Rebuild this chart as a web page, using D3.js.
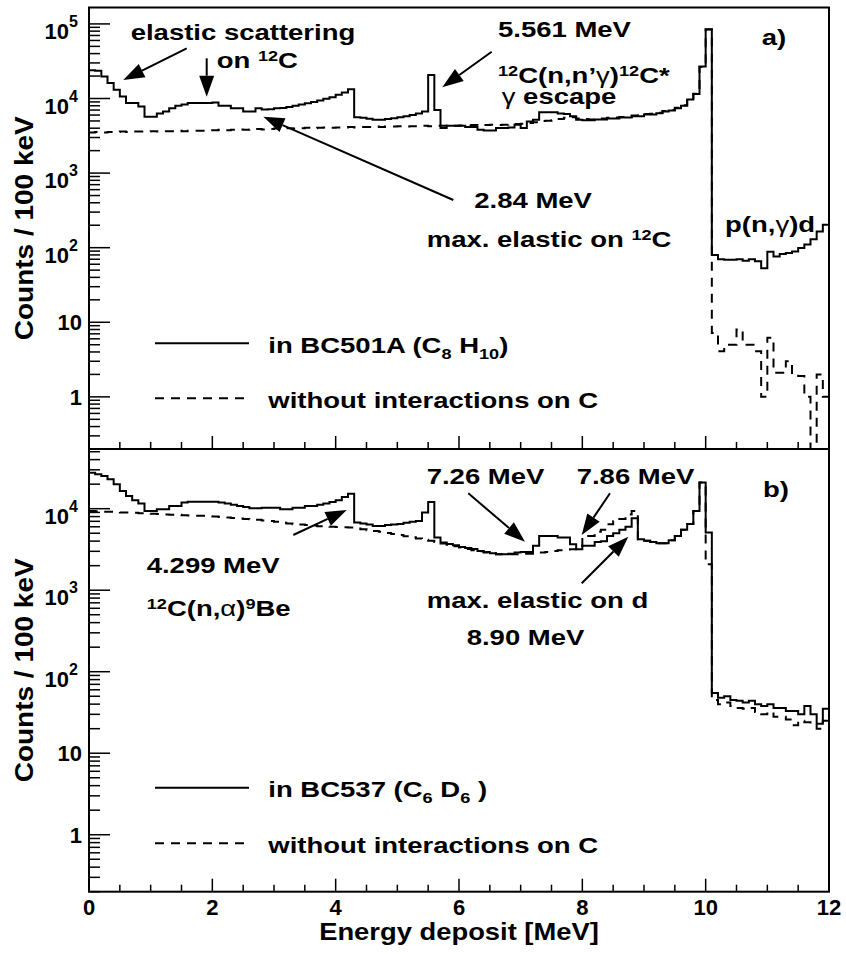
<!DOCTYPE html>
<html><head><meta charset="utf-8">
<script src="https://cdn.jsdelivr.net/npm/d3@7"></script>
<style>
body{margin:0;background:#fff}
text{font-family:"Liberation Sans",Arial,Helvetica,sans-serif;font-weight:bold;fill:#000}
</style>
</head><body>
<svg id="chart" width="846" height="954"></svg>
<script>
// ---------------- DATA (100 keV bins, 0 - 12 MeV) ----------------
const binWidth = 0.1;
const energyRange = [0, 12];
const xTickValues = [0, 2, 4, 6, 8, 10, 12];
const yTickValues = [1, 10, 100, 1000, 10000, 100000];

const bc501aWith = [
24000,23500,19700,16100,13100,10600,8700,8700,7800,5700,
5700,6300,6700,7400,8000,8300,8700,8700,8700,8700,
8850,8000,8000,7400,7400,6700,6700,7400,7100,7200,
7400,7450,7700,7980,8300,8670,9000,9400,9900,10400,
11200,12000,13300,5620,5500,5350,5200,5200,5300,5450,
5600,5800,6000,6300,6700,20700,7040,4010,4300,4300,
4300,4150,4150,3800,3720,3720,4010,4010,4100,4440,
4010,4920,5180,6560,6560,6560,6300,6200,5800,5200,
5100,5100,5250,5250,5400,5400,5550,5550,5800,5800,
6100,6100,6360,6700,6900,7430,7980,9700,11500,26800,
85000,80,70,69,69,70,67,70,66,53,
88,76,82,85,89,99,110,130,165,203];

const bc501aWithoutC = [
3500,3550,3500,3550,3550,3600,3550,3600,3600,3600,
3650,3600,3650,3650,3700,3650,3700,3700,3700,3750,
3750,3800,3750,3800,3850,3800,3850,3900,3850,3900,
3950,3950,4000,3950,4000,4050,4000,4050,4100,4050,
4100,4100,4150,4100,4150,4150,4200,4150,4200,4200,
4250,4200,4250,4250,4300,4250,4300,4300,4350,4300,
4350,4350,4400,4350,4400,4450,4400,4450,4500,4550,
4600,4700,4800,5000,5050,5100,5300,5500,5600,5400,
5300,5250,5350,5400,5500,5550,5650,5700,5900,5950,
6200,6250,6450,6800,7000,7500,8100,9800,11600,26500,
84000,7.2,4.1,5.0,5.0,8.0,5.0,5.0,4.1,1.0,
6.2,2.1,2.1,3.0,2.0,1.9,1.0,0,2.0,1.0];

const bc537With = [
27700,26500,25200,23000,20000,16500,14300,12700,11550,9400,
9400,9860,9860,10800,10800,11900,12200,12200,12200,12200,
12200,11900,11550,11200,10800,10500,10100,10100,10300,10300,
10300,9860,9860,10300,10300,10800,10800,11200,11550,12100,
12700,13900,15300,6760,6600,6400,6150,6150,6300,6400,
6500,6700,6900,7080,8960,12100,4420,3840,3700,3550,
3400,3300,3200,3030,2950,2850,2760,2760,2800,2900,
2950,2950,3500,4640,4640,4640,4420,4420,3660,3190,
3500,3500,3900,4000,4640,5000,5500,6000,7640,4220,
4030,3900,3780,3780,4100,4640,5500,6500,9400,20900,
5090,55,48,50,45,44,42,44,40,38,
40,36,36,33,33,30,38,30,23,35];

const bc537WithoutC = [
9400,9300,9200,9150,9100,9000,8960,8900,8800,8700,
8650,8600,8500,8450,8400,8300,8250,8200,8170,8100,
8000,7900,7800,7700,7600,7500,7400,7300,7150,7080,
6900,6700,6600,6460,6400,6300,6200,6100,6050,6000,
5950,5900,5860,5700,5600,5450,5340,5200,5050,4900,
4750,4600,4450,4300,4150,4030,3900,3750,3600,3450,
3340,3200,3100,3000,2900,2850,2760,2760,2760,2760,
2800,2800,2850,2900,2950,3030,3100,3150,3190,3500,
4640,4640,5200,5500,6460,7000,7500,8500,9400,4220,
4030,3900,3780,3780,4100,4640,5500,6500,9400,20900,
2080,45,40,42,38,36,35,36,32,30,
32,28,28,26,22,25,24,22,20,25];

// ---------------- LAYOUT ----------------
const svg = d3.select("#chart");
const L = 89, R = 829;
const panels = [
  {id:"a", top:7.5, bottom:449, yDomain:[0.2,1.66e5], series:[bc501aWith, bc501aWithoutC]},
  {id:"b", top:449, bottom:891.7, yDomain:[0.2,5.4e4], series:[bc537With, bc537WithoutC]}
];
const x = d3.scaleLinear().domain(energyRange).range([L, R]);

function stepPoints(vals, y, ymin){
  const pts = [];
  vals.forEach((v,i)=>{
    const vv = Math.max(v, ymin*0.5);
    const yy = y(vv);
    pts.push([x(i*binWidth), yy]);
    pts.push([x((i+1)*binWidth), yy]);
  });
  return pts;
}

function supText(g, parts, fs){
  const t = g.append("text").attr("font-size", fs);
  let shift = 0;
  parts.forEach(([s, m])=>{
    const ts = t.append("tspan").text(s);
    let target = 0;
    if (m === "sup") { ts.attr("font-size", fs*0.66); target = -fs*0.33; }
    else if (m === "sub") { ts.attr("font-size", fs*0.66); target = fs*0.28; }
    else if (m === "greek") { ts.attr("font-weight","normal"); }
    ts.attr("dy", target - shift);
    shift = target;
  });
  return t;
}

function label(px, py, parts, fs=22, sx=1.25){
  const g = svg.append("g").attr("transform", `translate(${px},${py}) scale(${sx},1)`);
  supText(g, parts, fs);
  return g;
}

function arrow(x1,y1,x2,y2){
  const ang = Math.atan2(y2-y1, x2-x1);
  const hl = 21, hw = 7.5;
  const bx = x2 - hl*Math.cos(ang), by = y2 - hl*Math.sin(ang);
  svg.append("line").attr("x1",x1).attr("y1",y1).attr("x2",bx).attr("y2",by)
     .attr("stroke","#000").attr("stroke-width",2);
  const px = -Math.sin(ang), py = Math.cos(ang);
  svg.append("path").attr("d",`M${x2},${y2}L${bx+hw*px},${by+hw*py}L${bx-hw*px},${by-hw*py}Z`)
     .attr("fill","#000");
}

panels.forEach((p, pi)=>{
  const y = d3.scaleLog().domain(p.yDomain).range([p.bottom, p.top]);
  p.y = y;
  const clipId = "clip"+p.id;
  svg.append("clipPath").attr("id",clipId).append("rect")
     .attr("x",L).attr("y",p.top).attr("width",R-L).attr("height",p.bottom-p.top);
  const line = d3.line();
  p.series.forEach((vals, si)=>{
    svg.append("path").attr("clip-path",`url(#${clipId})`)
      .attr("d", line(stepPoints(vals, y, p.yDomain[0])))
      .attr("fill","none").attr("stroke","#000").attr("stroke-width",2)
      .attr("stroke-dasharray", si===1 ? "9,7" : null)
      .attr("stroke-linejoin","miter");
  });
  const lo = Math.floor(Math.log10(p.yDomain[0])), hi = Math.ceil(Math.log10(p.yDomain[1]));
  for (let d=lo; d<=hi; d++){
    for (let k=1;k<=9;k++){
      const v = k*Math.pow(10,d);
      if (v < p.yDomain[0] || v > p.yDomain[1]) continue;
      const yy = y(v);
      svg.append("line").attr("x1",L).attr("x2",L+(k===1?21:11)).attr("y1",yy).attr("y2",yy)
         .attr("stroke","#000").attr("stroke-width",1.5);
    }
  }
  yTickValues.filter(v=>v>=p.yDomain[0] && v<=p.yDomain[1]).forEach(v=>{
    const e = Math.round(Math.log10(v));
    const yy = y(v);
    if (e <= 1){
      svg.append("text").attr("x",82).attr("y",yy+8).attr("text-anchor","end")
         .attr("font-size",22).text(String(v));
    } else {
      const t = svg.append("text").attr("x",78).attr("y",yy+15).attr("text-anchor","end")
         .attr("font-size",22);
      t.append("tspan").text("10");
      t.append("tspan").attr("font-size",16).attr("dy",-12).text(String(e));
    }
  });
  d3.range(0, 12.001, 0.5).forEach(v=>{
    const major = Math.abs(v/2 - Math.round(v/2)) < 1e-6;
    svg.append("line").attr("x1",x(v)).attr("x2",x(v)).attr("y1",p.bottom)
       .attr("y2",p.bottom-(major?13:7)).attr("stroke","#000").attr("stroke-width",1.5);
  });
  svg.append("rect").attr("x",L).attr("y",p.top).attr("width",R-L).attr("height",p.bottom-p.top)
     .attr("fill","none").attr("stroke","#000").attr("stroke-width",2);
  const cy = (p.top+p.bottom)/2;
  svg.append("g").attr("transform",`translate(33,${cy}) rotate(-90) scale(1.12,1)`)
    .append("text").attr("text-anchor","middle").attr("font-size",25).text("Counts / 100 keV");
});

xTickValues.forEach(v=>{
  svg.append("text").attr("x",x(v)).attr("y",915).attr("text-anchor","middle")
     .attr("font-size",22).text(String(v));
});
svg.append("g").attr("transform",`translate(${x(6)},940) scale(1.19,1)`)
   .append("text").attr("text-anchor","middle").attr("font-size",23).text("Energy deposit [MeV]");

// ---------------- ANNOTATIONS panel a ----------------
label(130.7,40,[["elastic scattering","n"]]);
label(216.7,68,[["on ","n"],["12","sup"],["C","n"]]);
arrow(186.7,48.3,123.3,80);
arrow(206.7,58.3,206.7,96.7);
label(498,37,[["5.561 MeV","n"]]);
label(498,83,[["12","sup"],["C(n,n’","n"],["γ","greek"],[")","n"],["12","sup"],["C*","n"]]);
label(501.7,104,[["γ","greek"],[" escape","n"]]);
arrow(491.7,51.7,442.3,87.3);
label(761.7,45,[["a)","n"]]);
label(474.3,208,[["2.84 MeV","n"]]);
label(426.7,247,[["max. elastic on ","n"],["12","sup"],["C","n"]]);
arrow(453.3,200,263.3,116.7);
label(725,232,[["p(n,","n"],["γ","greek"],[")d","n"]]);
svg.append("line").attr("x1",155).attr("x2",249).attr("y1",343.3).attr("y2",343.3).attr("stroke","#000").attr("stroke-width",2);
label(268.3,353.3,[["in BC501A (C","n"],["8","sub"],[" H","n"],["10","sub"],[")","n"]]);
svg.append("line").attr("x1",155).attr("x2",249).attr("y1",398.3).attr("y2",398.3).attr("stroke","#000").attr("stroke-width",2).attr("stroke-dasharray","9,7");
label(268.3,408.3,[["without interactions on C","n"]]);

// ---------------- ANNOTATIONS panel b ----------------
label(426.7,484,[["7.26 MeV","n"]]);
arrow(468.3,493.3,525,541.7);
label(576.7,484,[["7.86 MeV","n"]]);
arrow(610,493.3,581.7,535);
label(763,497,[["b)","n"]]);
label(426.7,608,[["max. elastic on d","n"]]);
label(466.7,645,[["8.90 MeV","n"]]);
arrow(581.7,583.3,628.3,536.7);
label(146.7,573,[["4.299 MeV","n"]]);
label(146.7,616,[["12","sup"],["C(n,","n"],["α","greek"],[")","n"],["9","sup"],["Be","n"]]);
arrow(293.3,535,346.7,510);
svg.append("line").attr("x1",155).attr("x2",249).attr("y1",787.7).attr("y2",787.7).attr("stroke","#000").attr("stroke-width",2);
label(268.3,796.7,[["in BC537 (C","n"],["6","sub"],[" D","n"],["6","sub"],[" )","n"]]);
svg.append("line").attr("x1",155).attr("x2",249).attr("y1",843.3).attr("y2",843.3).attr("stroke","#000").attr("stroke-width",2).attr("stroke-dasharray","9,7");
label(268.3,853.3,[["without interactions on C","n"]]);
</script>
</body></html>
